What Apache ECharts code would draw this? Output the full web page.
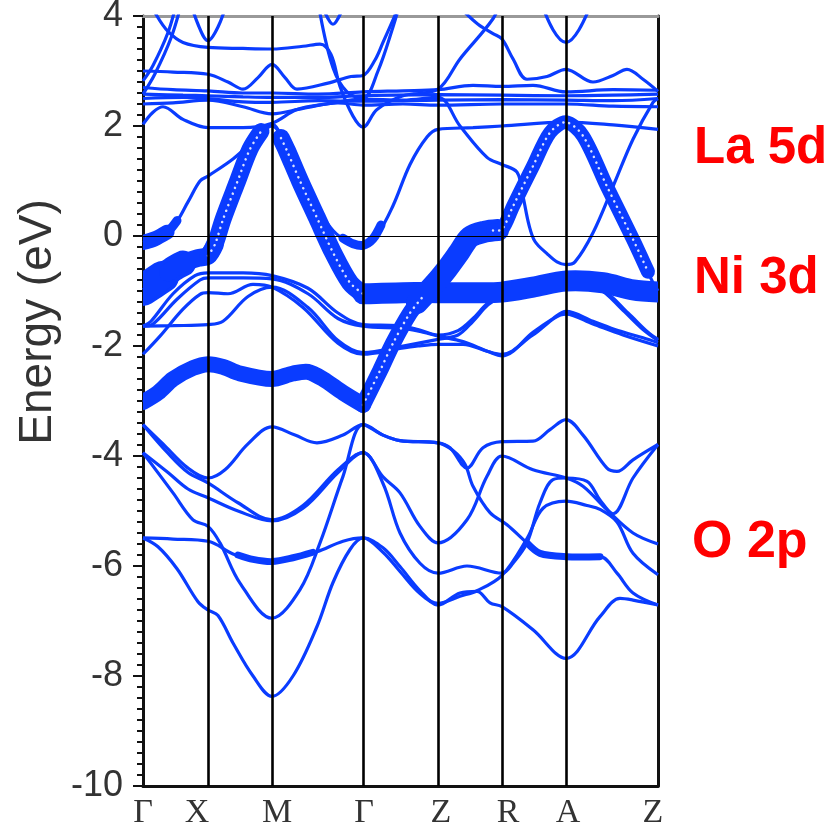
<!DOCTYPE html>
<html>
<head>
<meta charset="utf-8">
<title>Band structure</title>
<script src="https://cdn.jsdelivr.net/npm/echarts@6/dist/echarts.min.js"></script>
<style>
  html, body { margin: 0; padding: 0; background: #fff; }
  #chart { width: 836px; height: 831px; }
</style>
</head>
<body>
<div id="chart"></div>
<script>
// k-path: high symmetry points (path length units) and their labels
const kPoints = [0, 65, 129, 220, 295, 359, 423, 515];
const kLabels = ['Γ', 'X', 'M', 'Γ', 'Z', 'R', 'A', 'Z'];

// O 2p bands  [k, E(eV)]
const bandO1 = [[0,-3.43],[20,-3.78],[45,-4.22],[65,-4.40],[82,-4.25],[105,-3.78],[129,-3.47],[152,-3.62],[174,-3.76],[200,-3.62],[220,-3.43],[240,-3.62],[257,-3.72],[295,-3.76],[307,-3.85],[324,-4.22],[340,-3.85],[359,-3.74],[390,-3.73],[407,-3.52],[423,-3.34],[440,-3.62],[464,-4.22],[474,-4.28],[490,-4.07],[515,-3.79]];
const bandO2 = [[0,-3.43],[25,-3.95],[45,-4.3],[65,-4.49],[95,-4.85],[129,-5.16],[160,-4.9],[195,-4.25],[220,-3.94],[240,-4.38],[257,-4.67],[277,-5.28],[295,-5.58],[324,-5.16],[344,-4.37],[359,-4.0],[390,-4.25],[423,-4.40],[440,-4.55],[464,-4.98],[490,-5.4],[515,-5.6]];
const bandO3 = [[0,-3.94],[25,-4.3],[45,-4.6],[65,-4.76],[95,-5.0],[129,-5.18],[160,-4.95],[195,-4.3],[220,-3.94],[240,-4.5],[257,-5.4],[277,-5.95],[295,-6.13],[324,-6.0],[359,-6.13],[370,-5.95],[384,-5.58],[397,-4.85],[410,-4.43],[423,-4.40],[444,-4.46],[457,-4.8],[470,-5.05],[490,-4.4],[515,-3.79]];
const bandO4 = [[0,-3.94],[30,-4.67],[50,-5.16],[65,-5.28],[77,-5.58],[97,-6.31],[129,-6.95],[157,-6.43],[177,-5.58],[200,-4.37],[220,-3.43],[240,-3.62],[257,-3.72],[295,-3.76],[310,-3.9],[322,-4.15],[330,-4.55],[347,-5.03],[364,-5.25],[384,-5.58],[397,-5.77],[423,-5.83],[457,-5.83],[474,-6.13],[490,-6.49],[515,-6.71]];
const bandO5 = [[0,-5.49],[30,-5.51],[65,-5.55],[90,-5.78],[110,-5.88],[129,-5.92],[150,-5.85],[174,-5.74],[200,-5.55],[220,-5.49],[240,-5.67],[257,-6.01],[277,-6.45],[295,-6.71],[317,-6.49],[334,-6.46],[347,-6.67],[359,-6.74],[390,-7.16],[423,-7.68],[457,-6.92],[477,-6.59],[490,-6.62],[515,-6.71]];
const bandO6 = [[0,-5.49],[15,-5.65],[34,-6.05],[55,-6.65],[65,-6.8],[75,-6.9],[90,-7.4],[110,-8.0],[129,-8.37],[150,-8.0],[174,-7.1],[190,-6.3],[207,-5.7],[220,-5.49],[240,-5.75],[257,-6.1],[277,-6.5],[295,-6.68],[317,-6.55],[334,-6.45],[359,-6.17],[384,-5.5],[400,-4.95],[423,-4.82],[444,-4.9],[457,-4.97],[474,-5.2],[490,-5.77],[515,-6.16]];

// Ni 3d region thin bands
const bandT1 = [[0,-1.64],[8,-1.55],[30,-1.05],[52,-0.72],[65,-0.67],[100,-0.67],[129,-0.72],[165,-0.95],[195,-1.4],[220,-1.61],[255,-1.63],[275,-1.7],[295,-1.8],[315,-1.72],[330,-1.5],[345,-1.22],[359,-1.1],[390,-0.95],[423,-0.85],[455,-0.95],[480,-1.35],[500,-1.7],[515,-1.9]];
const bandT2 = [[0,-1.64],[10,-1.6],[34,-1.15],[57,-0.8],[65,-0.76],[100,-0.76],[129,-0.78],[165,-1.05],[195,-1.5],[220,-1.64],[260,-1.68],[280,-1.75],[295,-1.82],[320,-1.92],[345,-2.1],[359,-2.18],[390,-1.75],[410,-1.5],[423,-1.37],[450,-1.55],[475,-1.72],[500,-1.85],[515,-1.94]];
const bandT3 = [[0,-2.15],[17,-1.82],[40,-1.33],[57,-1.06],[65,-1.03],[85,-1.05],[110,-0.88],[129,-0.93],[160,-1.3],[195,-1.95],[220,-2.15],[255,-2.05],[275,-2.0],[295,-1.97],[320,-1.97],[345,-2.1],[359,-2.15],[390,-1.8],[423,-1.42],[450,-1.6],[480,-1.8],[515,-2.0]];
const bandT4 = [[0,-1.64],[30,-1.63],[65,-1.61],[80,-1.55],[105,-1.1],[129,-0.93],[165,-1.3],[195,-1.9],[220,-2.12],[260,-2.0],[295,-1.88],[315,-1.8],[330,-1.55],[345,-1.25],[359,-1.1],[390,-0.95],[423,-0.88],[460,-1.0],[485,-1.4],[505,-1.75],[515,-1.88]];
const bandNi1 = [[0,-0.98],[20,-0.74],[40,-0.5],[65,-0.36],[72,-0.15],[80,0.3],[94,0.97],[107,1.58],[118,1.9],[129,2.03],[144,1.55],[157,1.0],[174,0.33],[190,-0.3],[207,-0.85],[220,-1.05],[260,-1.03],[295,-1.03],[330,-1.03],[359,-1.02],[390,-0.93],[423,-0.82],[460,-0.85],[490,-0.98],[515,-1.02]];
const bandNi2 = [[0,-3.02],[15,-2.85],[30,-2.6],[50,-2.4],[65,-2.33],[80,-2.38],[97,-2.5],[129,-2.6],[150,-2.5],[165,-2.47],[180,-2.6],[200,-2.85],[220,-3.07],[237,-2.45],[250,-1.95],[267,-1.4],[280,-1.1],[295,-0.8],[304,-0.6],[316,-0.3],[327,-0.02],[342,0.08],[359,0.12],[370,0.54],[390,1.27],[407,1.88],[423,2.07],[440,1.82],[464,0.9],[490,-0.06],[510,-0.85],[515,-1.0]];

// La 5d / conduction bands
const bandC1 = [[0,-0.12],[12,-0.05],[30,0.17],[45,0.62],[57,1.0],[65,1.09],[90,1.4],[110,1.72],[129,2.0],[145,1.55],[160,1.0],[175,0.5],[190,0.1],[205,-0.1],[220,-0.17],[235,0.05],[250,0.55],[267,1.3],[284,1.8],[295,1.94],[330,1.97],[359,2.0],[423,2.07],[470,2.02],[515,1.94]];
const bandC2 = [[0,2.03],[10,2.25],[20,2.35],[40,2.12],[65,1.97],[100,1.97],[129,2.05],[154,2.3],[184,2.4],[220,2.49],[260,2.47],[295,2.52],[317,2.0],[344,1.43],[359,1.3],[374,1.16],[380,0.72],[386,0.2],[392,-0.1],[404,-0.32],[414,-0.47],[423,-0.52],[432,-0.47],[450,0.06],[470,0.9],[490,1.76],[510,2.43],[515,2.5]];
const bandC3 = [[0,3.0],[30,2.98],[65,2.94],[85,2.8],[100,2.67],[115,2.88],[129,3.12],[142,2.88],[154,2.67],[185,2.78],[208,2.9],[220,2.92],[232,3.2],[240,3.52],[254,4.1],[262,4.5]];
const bandC4 = [[3,4.4],[14,4.0],[25,3.72],[40,3.52],[65,3.43],[100,3.41],[129,3.4],[160,3.45],[177,3.49],[188,3.3],[197,2.72],[210,2.18],[220,1.98],[234,2.3],[260,2.55],[295,2.67],[317,3.22],[350,3.95],[358,4.3]];
const bandC5 = [[45,4.4],[55,3.85],[65,3.55],[75,3.8],[85,4.3]];
const bandC6 = [[320,4.1],[335,3.85],[350,3.68],[359,3.58],[370,3.22],[384,2.85],[404,2.9],[423,3.03],[450,2.8],[470,2.92],[484,3.03],[500,2.85],[515,2.63]];
const bandC7 = [[180,4.15],[190,3.85],[200,4.15]];
const bandC8 = [[177,4.05],[190,3.06],[204,2.62],[220,2.5],[235,3.0],[250,3.8],[258,4.3]];
const bandC9 = [[395,4.4],[410,3.75],[423,3.52],[436,3.75],[452,4.4]];
const bandC10 = [[0,2.82],[10,3.1],[25,3.7],[33,4.2]];
const bandC11 = [[0,2.58],[12,2.95],[28,3.6],[38,4.2]];
const bandB1 = [[0,2.7],[30,2.66],[65,2.64],[100,2.6],[129,2.6],[175,2.58],[220,2.62],[260,2.64],[295,2.66],[330,2.74],[359,2.72],[390,2.74],[423,2.62],[470,2.66],[515,2.65]];
const bandB2 = [[0,2.58],[40,2.56],[65,2.55],[100,2.53],[129,2.52],[175,2.52],[220,2.55],[295,2.57],[359,2.56],[423,2.55],[470,2.56],[515,2.58]];
const bandB3 = [[0,2.5],[40,2.52],[65,2.5],[100,2.44],[129,2.43],[175,2.46],[220,2.45],[295,2.47],[359,2.48],[423,2.47],[470,2.46],[515,2.5]];
const bandB4 = [[0,2.4],[30,2.42],[65,2.47],[100,2.35],[129,2.22],[160,2.32],[195,2.42],[220,2.38],[260,2.4],[295,2.38],[359,2.4],[423,2.4],[470,2.36],[515,2.35]];

// fat-band (orbital weight) portions of the bands above
const fatNi1a = [[0,-0.98],[10,-0.86],[20,-0.74]];
const fatNi1b = [[0,-0.98],[15,-0.8],[30,-0.6],[40,-0.5]];
const fatNi1c = [[25,-0.66],[40,-0.5],[55,-0.4],[65,-0.36],[72,-0.15]];
const fatNi1f = [[65,-0.36],[72,-0.15],[80,0.3],[94,0.97],[107,1.58],[118,1.9]];
const fatNi1g = [[138,1.78],[144,1.55],[157,1.0],[174,0.33],[190,-0.3],[207,-0.85],[220,-1.05]];
const fatNi1h = [[220,-1.05],[260,-1.03],[295,-1.03],[330,-1.03],[359,-1.02],[390,-0.93],[423,-0.82],[460,-0.85],[490,-0.98],[515,-1.02]];
const fatNi2a = [[0,-3.02],[15,-2.85],[30,-2.6],[50,-2.4],[65,-2.33],[80,-2.38],[97,-2.5],[129,-2.6],[150,-2.5],[165,-2.47],[180,-2.6],[200,-2.85],[220,-3.07]];
const fatNi2c = [[220,-3.07],[237,-2.45],[250,-1.95],[267,-1.4],[280,-1.1]];
const fatNi2d = [[274,-1.22],[295,-0.8],[304,-0.6],[316,-0.3],[327,-0.02],[342,0.08],[355,0.11]];
const fatNi2e = [[350,0.1],[359,0.12],[370,0.54],[390,1.27],[407,1.88],[423,2.07],[440,1.82],[464,0.9],[490,-0.06],[505,-0.65]];
const fatC1a = [[0,-0.12],[12,-0.05],[24,0.07]];
const fatC1c = [[16,-0.02],[26,0.1],[34,0.28]];
const fatC1b = [[200,-0.04],[210,-0.14],[220,-0.17],[230,-0.05],[238,0.2]];
const fatO5 = [[95,-5.8],[110,-5.88],[129,-5.92],[150,-5.85],[170,-5.75]];
const fatO4 = [[384,-5.58],[397,-5.77],[423,-5.83],[457,-5.83]];

// x label nudges (px) to sit like the original labels
const labelShift = [0, -11, 5, 1, 3, 6, 2, -5];

const BLUE = '#0a3cff';
const chart = echarts.init(document.getElementById('chart'));

const thinBands = [bandO1, bandO2, bandO3, bandO4, bandO5, bandO6,
  bandT1, bandT2, bandT3, bandT4, bandNi1, bandNi2,
  bandC1, bandC2, bandC3, bandC4, bandC5, bandC6, bandC7, bandC8, bandC9, bandC10, bandC11,
  bandB1, bandB2, bandB3, bandB4];

// [data, width, dotted]
const fatBands = [
  [fatNi1a, 32, false], [fatNi1b, 26, false], [fatNi1c, 18, false],
  [fatNi1f, 17, true], [fatNi1g, 18, true], [fatNi1h, 21, false],
  [fatNi2a, 16, false], [fatNi2c, 16, true],
  [fatNi2d, 22, false], [fatNi2e, 14, true],
  [fatC1a, 15, false], [fatC1c, 9, false], [fatC1b, 9, false],
  [fatO5, 7, false], [fatO4, 7, false]
];

// fat pieces: custom polyline, clipped tightly to the frame
function fatSeries(d, w, color, dash, z) {
  return {
    type: 'custom', data: d, clip: true, silent: true, z: z,
    encode: { x: 0, y: 1 },
    renderItem: (params, api) => {
      if (params.dataIndex !== 0) return null;
      const pts = d.map((p) => api.coord(p));
      return {
        type: 'polyline',
        shape: { points: pts, smooth: 0.3 },
        style: { stroke: color, lineWidth: w, lineCap: 'round', lineJoin: 'round', fill: null,
                 lineDash: dash || null, opacity: dash ? 0.85 : 1 }
      };
    }
  };
}

const series = [];
thinBands.forEach((d) => {
  series.push({
    type: 'line', data: d, smooth: 0.35, symbol: 'none', silent: true, z: 2,
    lineStyle: { color: BLUE, width: 3.2 }
  });
});
fatBands.forEach(([d, w, dotted]) => {
  series.push(fatSeries(d, w, BLUE, null, 3));
  if (dotted) series.push(fatSeries(d, 2.5, '#ffffff', [0.1, 6], 4));
});
// high-symmetry lines and Fermi level
series.push({
  type: 'line', data: [[0, 0]], symbol: 'none', silent: true, z: 10,
  lineStyle: { opacity: 0 },
  markLine: {
    silent: true, symbol: 'none', animation: false, label: { show: false },
    lineStyle: { color: '#000', width: 2.6, type: 'solid' },
    data: kPoints.slice(1, -1).map((k) => ({ xAxis: k }))
      .concat([{ yAxis: 0, lineStyle: { color: '#000', width: 1.2, type: 'solid' } }])
  }
});

const rich = {};
labelShift.forEach((s, i) => {
  rich['p' + i] = {
    fontFamily: 'Liberation Serif', fontSize: 34, color: '#333',
    padding: [0, s < 0 ? -2 * s : 0, 0, s > 0 ? 2 * s : 0]
  };
});

chart.setOption({
  animation: false,
  backgroundColor: '#fff',
  grid: { left: 143, right: 178, top: 16, bottom: 45, containLabel: false, outerBoundsMode: 'none' },
  xAxis: [{
    type: 'value', min: 0, max: 515, position: 'bottom',
    axisLine: { show: true, onZero: false, lineStyle: { color: '#111', width: 3 } },
    axisTick: { show: false },
    splitLine: { show: false },
    axisLabel: {
      customValues: kPoints,
      formatter: (v) => {
        const i = kPoints.indexOf(v);
        return i < 0 ? '' : '{p' + i + '|' + kLabels[i] + '}';
      },
      rich: rich,
      fontFamily: 'Liberation Serif', fontSize: 34, color: '#333', margin: 10
    }
  }, {
    type: 'value', min: 0, max: 515, position: 'top',
    axisLine: { show: true, onZero: false, lineStyle: { color: '#999', width: 3 } },
    axisTick: { show: false }, axisLabel: { show: false }, splitLine: { show: false }
  }],
  yAxis: [{
    type: 'value', min: -10, max: 4, interval: 2,
    axisLine: { show: true, onZero: false, lineStyle: { color: '#111', width: 3 } },
    axisTick: { show: true, length: 10, lineStyle: { color: '#111', width: 2 } },
    minorTick: { show: true, splitNumber: 10, length: 6, lineStyle: { color: '#111', width: 2 } },
    splitLine: { show: false },
    axisLabel: { fontFamily: 'Liberation Sans', fontSize: 36, color: '#333', margin: 20 }
  }, {
    type: 'value', min: -10, max: 4, position: 'right',
    axisLine: { show: true, onZero: false, lineStyle: { color: '#111', width: 3 } },
    axisTick: { show: false }, axisLabel: { show: false }, splitLine: { show: false }
  }],
  graphic: [
    { type: 'text', x: 38, y: 322, rotation: Math.PI / 2,
      style: { text: 'Energy (eV)', font: '46px "Liberation Sans"', fill: '#333', align: 'center', verticalAlign: 'middle' } },
    { type: 'text', x: 694, y: 149,
      style: { text: 'La 5d', font: 'bold 51px "Liberation Sans"', fill: '#ff0000', align: 'left', verticalAlign: 'middle' } },
    { type: 'text', x: 694, y: 279,
      style: { text: 'Ni 3d', font: 'bold 51px "Liberation Sans"', fill: '#ff0000', align: 'left', verticalAlign: 'middle' } },
    { type: 'text', x: 692, y: 543,
      style: { text: 'O 2p', font: 'bold 52px "Liberation Sans"', fill: '#ff0000', align: 'left', verticalAlign: 'middle' } }
  ],
  series: series
});
</script>
</body>
</html>
